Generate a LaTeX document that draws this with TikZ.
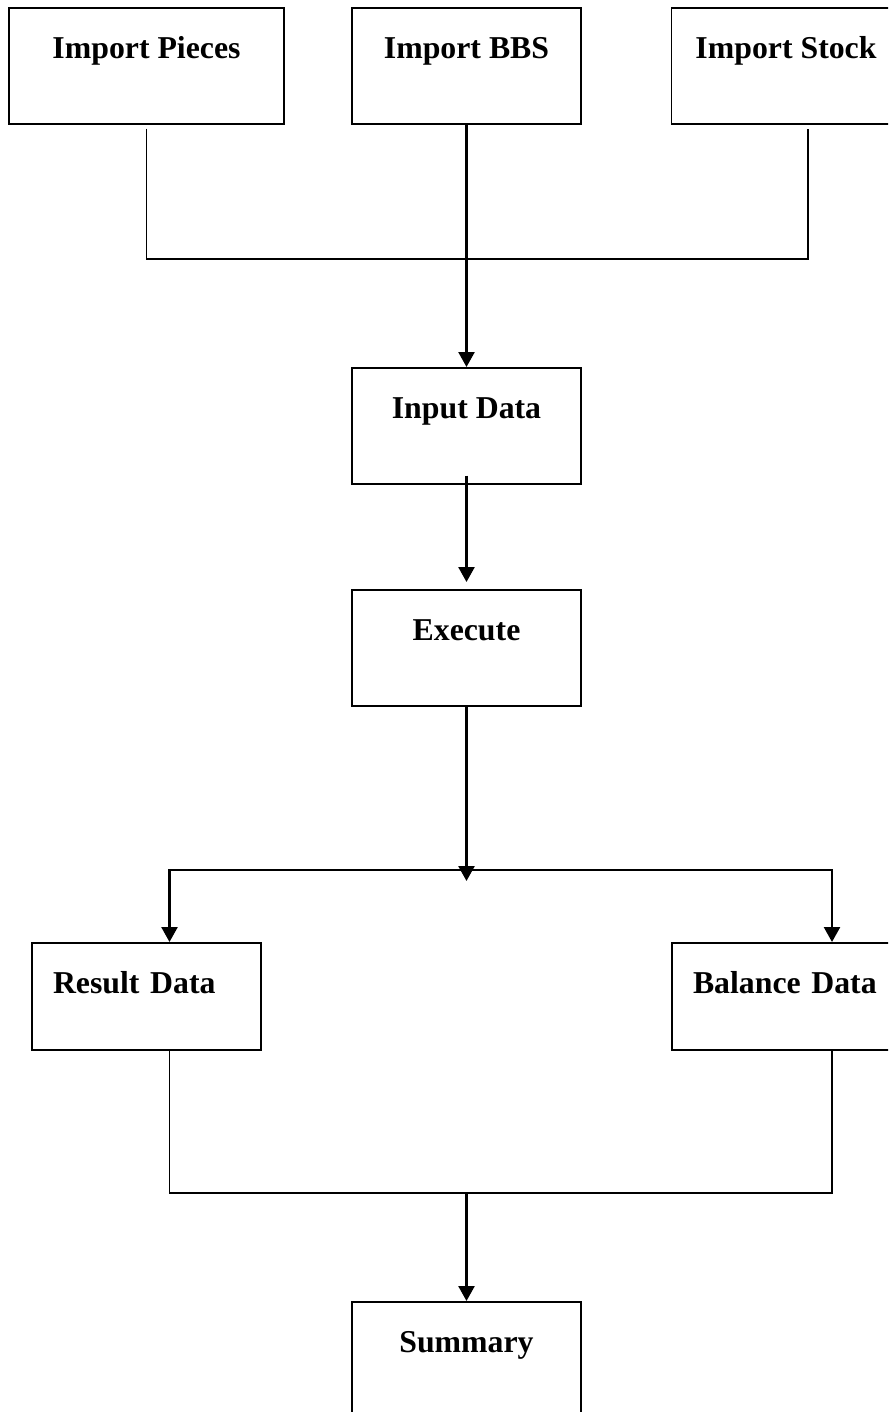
\documentclass[tikz,border=0pt]{standalone}
\usepackage{fontspec}
\setmainfont{Liberation Serif}
\usepackage{tikz}
\usetikzlibrary{positioning}
\usetikzlibrary{arrows.meta}

\begin{document}
\begin{tikzpicture}[x = 0.5pt, y = -0.5pt,
  block/.style = {draw, line width = 0.85pt, anchor = north, inner xsep = 0pt, inner ysep = 0pt,
    minimum width = 114.5pt, text height = 25.5pt, text depth = 32.5pt,
    font = \fontsize{15.9}{19}\selectfont\bfseries},
  sideblock/.style = {block, inner xsep = 10.5pt, text width = 93.5pt, align = left, text depth = 28pt},
  link/.style = {line width = 0.85pt},
  flow/.style = {line width = 1.25pt, -{Triangle[length = 7.5pt, width = 8pt]}}]

\clip (0,0) rectangle (888,1412);

\node[block, minimum width = 137.5pt] at (146.5,7) (pieces) {Import Pieces};
\node[block] at (466.5,7) (bbs) {Import BBS};
\node[block] at (786,7) (stock) {Import Stock};

\node[block] at (466.5,367) (input) {Input Data};
\node[block] at (466.5,589) (exec) {Execute};

\node[sideblock] at (146.5,942) (result) {Result Data};
\node[sideblock] at (786.5,942) (balance) {Balance Data};

\node[block] at (466.5,1301) (summary) {Summary};

\coordinate (bus1) at (466.5,259);
\coordinate (bus2) at (466.5,870);
\coordinate (split) at (466.5,881);
\coordinate (bus3) at (466.5,1193);

% imports
\draw[link] ([yshift = -2pt]pieces.south) |- (bus1) -| ([xshift = 11pt, yshift = -2pt]stock.south);
\draw[flow] (bbs.south) -- (input.north);
\draw[flow, shorten <= -4.5pt, shorten > = 3.5pt] (input.south) -- (exec.north);

% split
\draw[flow] (exec.south) -- (split);
\draw[flow] (bus2) -| ([xshift = 11.5pt]result.north);
\draw[flow] (bus2) -| ([xshift = 22.75pt]balance.north);

% join
\draw[link] ([xshift = 11.5pt]result.south) |- (bus3) -| ([xshift = 22.75pt]balance.south);
\draw[flow] (bus3) -- (summary.north);

\end{tikzpicture}
\end{document}
